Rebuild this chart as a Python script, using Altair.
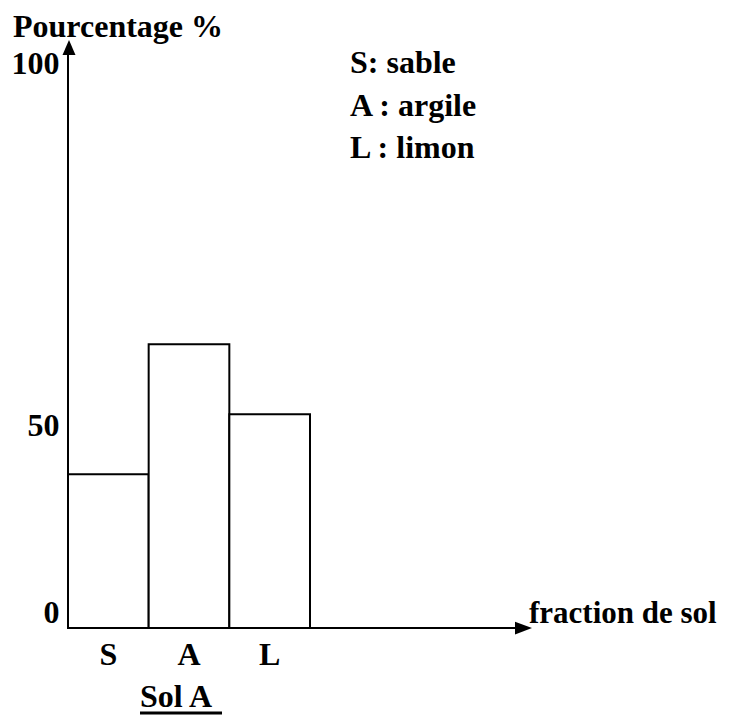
import altair as alt
import pandas as pd

# ---- data ----
fractions = ["S", "A", "L"]
percentages = [37.9, 61.3, 51.5]
y_ticks = [0, 50, 100]
legend_lines = ["S: sable", "A : argile", "L : limon"]
y_title = "Pourcentage %"
x_title = "fraction de sol"
sol_label = "Sol A"

FONT = "'Liberation Serif', 'Times New Roman', 'DejaVu Serif', serif"
FS = 32

df = pd.DataFrame({"fraction": fractions, "pct": percentages})

W, H = 464, 560
yscale = alt.Scale(domain=y_ticks, range=[H, 357, 0])
xscale = alt.Scale(domain=fractions, range=[0, 242], paddingInner=0, paddingOuter=0)

bars = alt.Chart(df).mark_bar(fill="white", stroke="black", strokeWidth=2).encode(
    x=alt.X("fraction:N", scale=xscale, sort=fractions,
            axis=alt.Axis(title=None, domain=False, ticks=False, labelAngle=0,
                          labelFont=FONT, labelFontSize=FS, labelFontWeight="bold",
                          labelColor="black", labelPadding=11)),
    y=alt.Y("pct:Q", scale=yscale,
            axis=alt.Axis(title=None, domain=False, ticks=False, grid=False,
                          values=y_ticks, labelFont=FONT, labelFontSize=FS,
                          labelFontWeight="bold", labelColor="black", labelPadding=9,
                          labelOffset=alt.ExprRef("datum.value === 0 ? -16 : (datum.value === 100 ? -5 : 0)"))),
)

one = pd.DataFrame({"k": [0]})

y_axis_line = alt.Chart(one).mark_rule(color="black", strokeWidth=2).encode(
    x=alt.value(0), y=alt.value(H), y2=alt.value(-13))
x_axis_line = alt.Chart(one).mark_rule(color="black", strokeWidth=2).encode(
    x=alt.value(0), x2=alt.value(449), y=alt.value(H))
y_arrow = alt.Chart(one).mark_point(shape="M0,-1L-0.867,1L0.867,1Z", filled=True,
                                    color="black", opacity=1, size=225).encode(
    x=alt.value(1), y=alt.value(-20.5))
x_arrow = alt.Chart(one).mark_point(shape="M1,0L-1,-0.75L-1,0.75Z", filled=True,
                                    color="black", opacity=1, size=289).encode(
    x=alt.value(455.5), y=alt.value(H))

def text_layer(txt, x, y, size=FS):
    return alt.Chart(pd.DataFrame({"t": [txt]})).mark_text(
        font=FONT, fontSize=size, fontWeight="bold", color="black",
        align="left", baseline="alphabetic").encode(
        x=alt.value(x), y=alt.value(y), text="t:N")

texts = [text_layer(y_title, -55, -31),
         text_layer(x_title, 461, 555, size=31),
         text_layer(sol_label, 72, 639)]
for i, line in enumerate(legend_lines):
    texts.append(text_layer(line, 282, 5 + i * 42.5))

underline = alt.Chart(one).mark_rule(color="black", strokeWidth=3).encode(
    x=alt.value(72), x2=alt.value(154), y=alt.value(645))

chart = alt.layer(bars, y_axis_line, x_axis_line, y_arrow, x_arrow, underline, *texts).properties(
    width=W, height=H,
    padding={"left": 60, "top": 60, "right": 189, "bottom": 88},
    autosize=alt.AutoSizeParams(type="none"),
).configure_view(stroke=None)

chart.save("out.html", embed_options={"renderer": "svg", "actions": False})
